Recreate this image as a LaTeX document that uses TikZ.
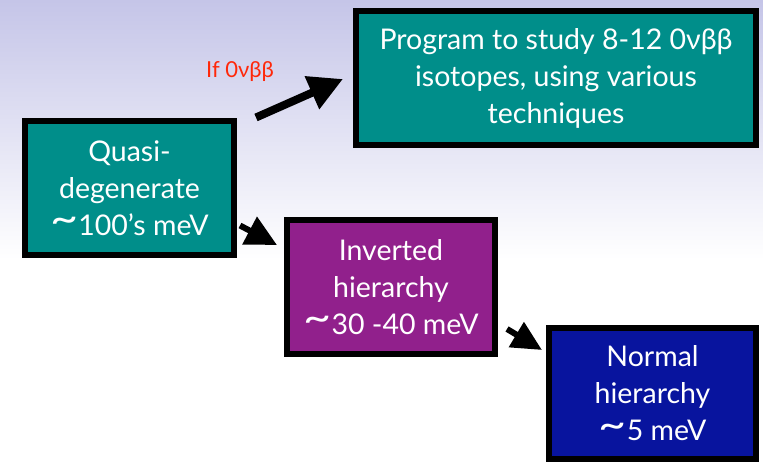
\documentclass[tikz,border=0pt]{standalone}
\usepackage{fontspec}
\usepackage{xcolor}
\usepackage{graphicx}
\usepackage{tikz}
\usetikzlibrary{arrows.meta}
\usetikzlibrary{calc}
\setmainfont{Lato}
\definecolor{bgtop}{RGB}{197,197,232}
\definecolor{tealbox}{RGB}{0,142,138}
\definecolor{purplebox}{RGB}{145,32,140}
\definecolor{bluebox}{RGB}{8,20,158}
\definecolor{labelred}{RGB}{255,40,10}
\newcommand{\wave}{\raisebox{0.1em}{\scalebox{1.7}[1.4]{\textasciitilde}}}
\tikzstyle{levelbox}=[draw=black,line width=6pt,text=white,align=center,
  inner sep=0pt,font=\fontsize{28.5}{37}\selectfont]
\tikzstyle{bigarrow}=[line width=6pt,-{Triangle[length=31pt,width=30pt]}]

\begin{document}
\begin{tikzpicture}[x=1pt,y=-1pt]
            \def\W{763}
            \def\H{465}
            \useasboundingbox (0,0) rectangle (\W,\H);
            % background fading to white
            \fill[top color=bgtop,bottom color=white] (0,0) rectangle (\W,260);
            \fill[white] (0,260) rectangle (\W,\H);

            \node[levelbox,fill=tealbox,minimum width=400pt,minimum height=134pt]
              (prog) at (556,78) {Program to study 8-12 0νββ\\isotopes, using various\\techniques};
            \node[levelbox,fill=tealbox,minimum width=209pt,minimum height=133pt]
              (quasi) at (129.5,188) {Quasi-\\degenerate\\\wave100’s meV};
            \node[levelbox,fill=purplebox,minimum width=208pt,minimum height=134pt]
              (inverted) at (391,287) {Inverted\\hierarchy\\\wave30 -40 meV};
            \node[levelbox,fill=bluebox,minimum width=207pt,minimum height=131pt]
              (normal) at (652.5,393.5) {Normal\\hierarchy\\\wave5 meV};

            \node[text=labelred,font=\fontsize{22}{26}\selectfont,anchor=base west,inner sep=0pt]
              (ifdecay) at (206,78) {If 0νββ};

            \draw[bigarrow,line width=8pt,-{Triangle[length=34pt,width=34pt]}]
              ($(quasi.north east)+(19,-1)$) -- ($(prog.west)+(-10,1)$);
            \draw[bigarrow] ($(quasi.south east)+(3,-32)$) -- ($(inverted.north west)+(-7,28)$);
            \draw[bigarrow,-{Triangle[length=30pt,width=28pt]}]
              ($(inverted.south east)+(9,-28)$) -- ($(normal.north west)+(-4,25)$);

        \end{tikzpicture}
\end{document}
